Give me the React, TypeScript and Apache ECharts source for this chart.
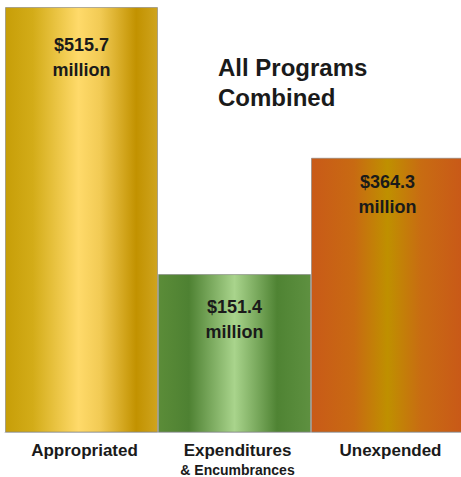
import React, { useEffect, useRef } from "react";
import * as echarts from "echarts";

const categories = ["Appropriated", "Expenditures\n& Encumbrances", "Unexpended"];
// dollar amounts shown on the bars (millions)
const amounts = [515.7, 151.4, 364.3];
// bar heights as drawn in the picture (same units, the picture is not to scale)
const drawnHeights = [515.7, 192, 333];
const labelDistances = [25, 20, 12];
const gradients = [
  [
    [0, "#C79E08"],
    [0.18, "#D3AC18"],
    [0.48, "#FFDA6A"],
    [0.62, "#F2CB55"],
    [0.86, "#C29200"],
    [1, "#CFA41E"],
  ],
  [
    [0, "#5B8C38"],
    [0.2, "#4E8132"],
    [0.5, "#A9D48C"],
    [0.78, "#4F8333"],
    [1, "#5E9040"],
  ],
  [
    [0, "#C95A18"],
    [0.28, "#C86A12"],
    [0.5, "#BF9000"],
    [0.72, "#C86C12"],
    [1, "#C95818"],
  ],
];

const FONT = 'Arial, "Liberation Sans", Helvetica, sans-serif';

export default function App() {
  const ref = useRef<HTMLDivElement>(null);
  useEffect(() => {
    if (!ref.current) return;
    const chart = echarts.init(ref.current, null, { renderer: "svg" });
    chart.setOption({
      animation: false,
      backgroundColor: "#ffffff",
      title: {
        text: "All Programs\nCombined",
        left: 213,
        top: 47,
        textStyle: {
          fontFamily: FONT,
          fontSize: 24,
          fontWeight: "bold",
          color: "#1a1a1a",
          lineHeight: 30,
        },
      },
      grid: { left: 5, right: 0, top: 7, bottom: 40, containLabel: false },
      xAxis: {
        type: "category",
        data: categories,
        axisTick: { show: false },
        axisLine: { show: true, lineStyle: { color: "#c8ccd0", width: 1 } },
        axisLabel: {
          interval: 0,
          margin: 8,
          formatter: (v: string) => {
            const parts = v.split("\n");
            return parts.length > 1
              ? `{a|${parts[0]}}\n{b|${parts[1]}}`
              : `{a|${parts[0]}}`;
          },
          rich: {
            a: {
              fontFamily: FONT,
              fontSize: 17,
              fontWeight: "bold",
              color: "#1a1a1a",
              lineHeight: 20,
              padding: [0, 0, 0, 6],
            },
            b: {
              fontFamily: FONT,
              fontSize: 14,
              fontWeight: "bold",
              color: "#1a1a1a",
              lineHeight: 19,
              padding: [0, 0, 0, 6],
            },
          },
        },
      },
      yAxis: {
        type: "value",
        min: 0,
        max: 515.7,
        show: false,
        splitLine: { show: false },
      },
      series: [
        {
          type: "bar",
          barCategoryGap: 0,
          data: drawnHeights.map((h, i) => ({
            value: h,
            itemStyle: {
              color: new echarts.graphic.LinearGradient(
                0,
                0,
                1,
                0,
                gradients[i].map(([o, c]) => ({ offset: o as number, color: c as string }))
              ),
              borderColor: "rgba(130,130,130,0.6)",
              borderWidth: 1,
            },
            label: {
              show: true,
              position: "insideTop",
              distance: labelDistances[i],
              formatter: `$${amounts[i].toFixed(1)}\nmillion`,
              fontFamily: FONT,
              fontSize: 18,
              fontWeight: "bold",
              color: "#1a1a1a",
              lineHeight: 25,
            },
          })),
        },
      ],
    });
    return () => chart.dispose();
  }, []);
  return (
    <div
      style={{
        position: "fixed",
        left: 0,
        top: 0,
        width: 461,
        height: 477,
        overflow: "hidden",
        background: "#ffffff",
      }}
    >
      <div ref={ref} style={{ width: 464, height: 477 }} />
    </div>
  );
}
